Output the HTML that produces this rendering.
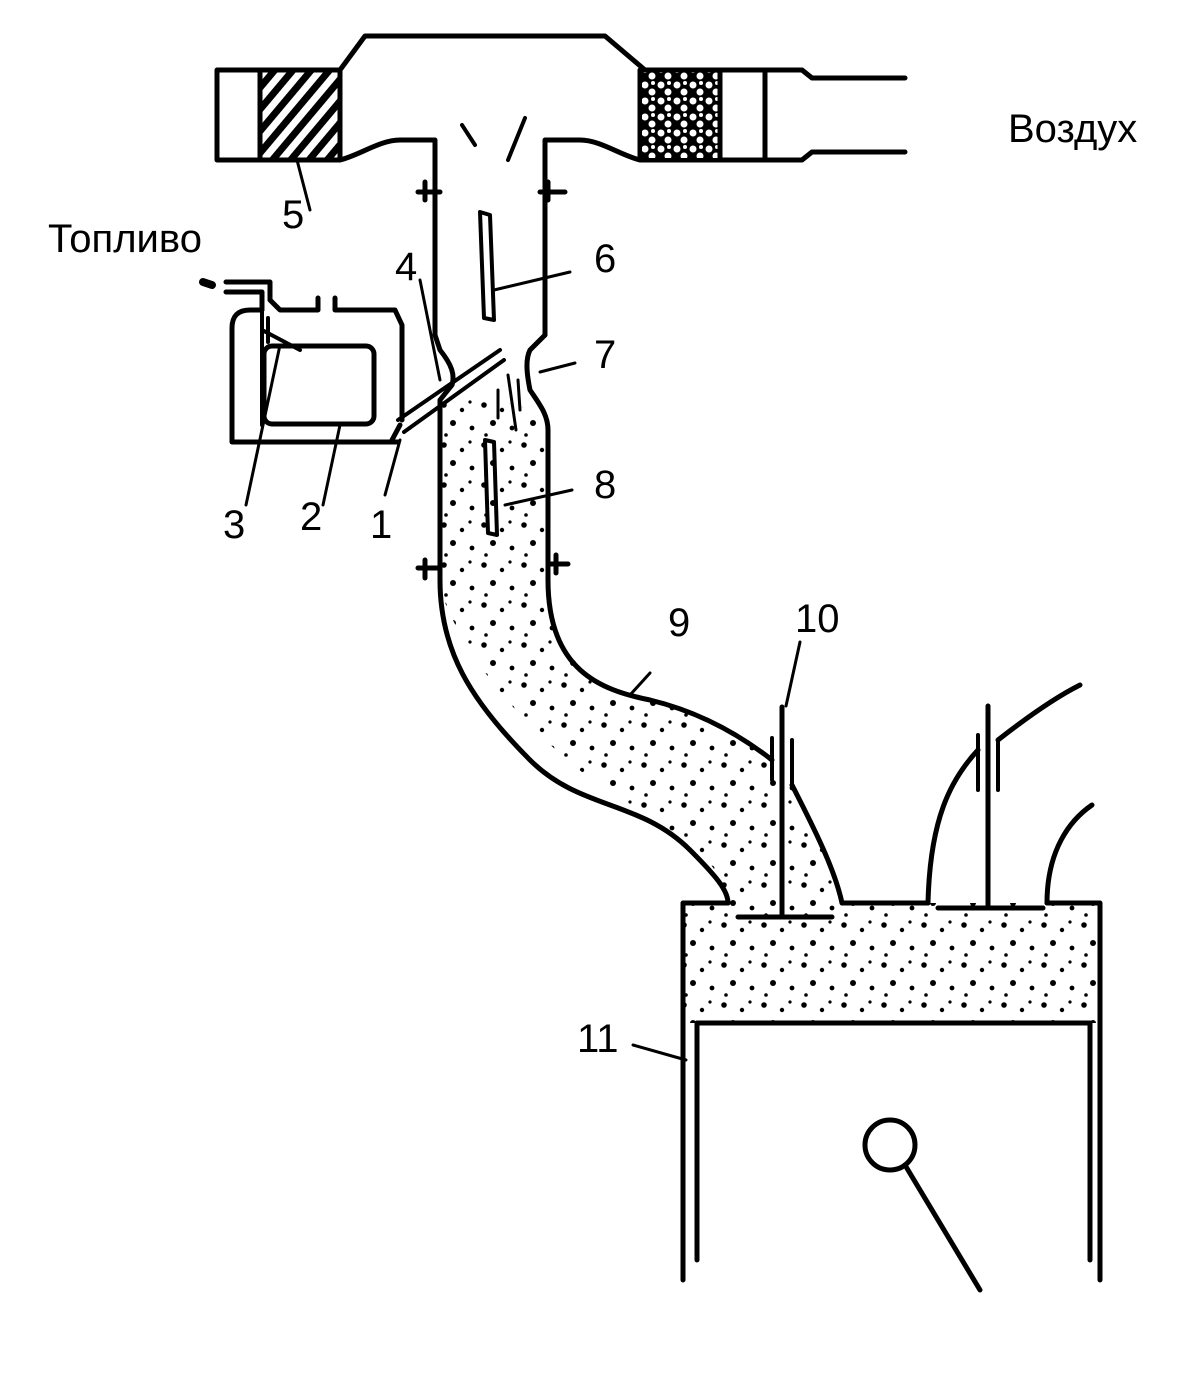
<!DOCTYPE html>
<html><head><meta charset="utf-8"><style>
html,body{margin:0;padding:0;background:#fff;}
svg{display:block}
text{font-family:"Liberation Sans",sans-serif;fill:#000}
</style></head><body>
<svg width="1200" height="1376" viewBox="0 0 1200 1376" xmlns="http://www.w3.org/2000/svg">
<defs>
<pattern id="dots" width="40" height="40" patternUnits="userSpaceOnUse">
<circle cx="4" cy="5" r="2.8"/><circle cx="22" cy="10" r="2.2"/><circle cx="13" cy="23" r="3"/><circle cx="32" cy="28" r="2.4"/><circle cx="6" cy="35" r="1.8"/><circle cx="30" cy="2" r="1.6"/>
</pattern>
<pattern id="hatch" width="14" height="14" patternUnits="userSpaceOnUse" patternTransform="rotate(-50)">
<rect x="0" y="0" width="14" height="7" fill="#000"/>
</pattern>
<pattern id="blob" width="16" height="16" patternUnits="userSpaceOnUse">
<rect width="16" height="16" fill="#000"/><circle cx="5" cy="5" r="3.5" fill="#fff"/><circle cx="12" cy="12" r="3.5" fill="#fff"/><circle cx="13" cy="3" r="2" fill="#fff"/>
</pattern>
</defs>
<g fill="none" stroke="#000" stroke-width="5" stroke-linejoin="round" stroke-linecap="round">
<path d="M440,410 L452,395 L520,405 L548,430 L548,580 C548,660 600,690 650,700 C700,712 740,735 772,760 L782,760 L792,785 C820,830 835,870 842,903 L1100,903 L1100,1023 L683,1023 L683,903 L728,903 C720,860 690,840 620,800 C560,760 500,700 470,650 C445,610 440,590 440,580 Z" fill="url(#dots)" stroke="none"/>
<path d="M263,70 L340,70 L365,36 L605,36 L645,70 L718,70"/>
<rect x="217" y="70" width="123" height="90" fill="#fff"/>
<rect x="260" y="72" width="80" height="86" fill="url(#hatch)" stroke="none"/>
<line x1="260" y1="70" x2="260" y2="160"/>
<rect x="640" y="70" width="125" height="90" fill="#fff"/>
<rect x="642" y="72" width="78" height="86" fill="url(#blob)" stroke="none"/>
<line x1="720" y1="70" x2="720" y2="160"/>
<path d="M765,70 L802,70 L812,78 L905,78"/>
<path d="M765,160 L802,160 L812,152 L905,152"/>
<path d="M340,160 C360,155 380,140 400,140 L435,140 L435,335"/>
<path d="M640,160 C620,155 600,140 580,140 L545,140 L545,335"/>
<path d="M425,182 L425,200 M418,192 L440,192 M548,182 L548,200 M540,192 L565,192"/>
<path d="M425,560 L425,578 M418,568 L440,568 M556,555 L556,573 M548,564 L568,564"/>
<path d="M435,335 L440,350 C452,365 455,375 452,385 L440,400 L440,580"/>
<path d="M545,335 L530,350 C525,360 527,375 530,390 C540,405 548,415 548,430 L548,580"/>
<path d="M398,420 L500,350 M404,432 L504,360" stroke-width="4"/>
<path d="M400,425 L392,440" />
<path d="M480,212 L490,215 L494,320 L484,318 Z" stroke-width="4"/>
<path d="M485,440 L494,442 L497,535 L488,533 Z" stroke-width="4"/>
<path d="M462,125 L475,145 M525,118 L508,160" stroke-width="4"/>
<path d="M498,390 L498,418 M508,375 L516,430 M518,380 L520,410" stroke-width="3"/>
<path d="M232,370 L232,442 L398,442 M232,370 L232,328 Q232,310 250,310 L262,310 M262,310 L262,292 L226,292 M226,282 L270,282 L270,300 L280,310 L318,310 L318,298 M335,298 L335,310 L395,310 L402,325 L402,420"/>
<rect x="264" y="346" width="110" height="78" rx="8"/>
<path d="M262,310 L262,425 M268,318 L268,342 M262,330 L300,350" stroke-width="4"/>
<path d="M203,282 L212,285" stroke-width="8"/>
<path d="M440,580 C440,650 470,700 530,760 C580,810 640,800 690,850 C715,875 728,890 728,903"/>
<path d="M548,580 C548,670 600,690 650,700 C700,712 740,735 772,760"/>
<path d="M792,785 C815,830 835,870 842,903"/>
<path d="M782,707 L782,917 M738,917 L832,917"/>
<path d="M772,738 L772,780 M792,740 L792,785" stroke-width="4"/>
<path d="M988,706 L988,908 M938,908 L1043,908"/>
<path d="M978,735 L978,790 M998,740 L998,790" stroke-width="4"/>
<path d="M928,903 C930,820 950,780 978,750"/>
<path d="M998,740 C1030,715 1060,695 1080,685"/>
<path d="M1047,903 C1047,850 1070,820 1092,805"/>
<path d="M683,1280 L683,903 L728,903 M842,903 L928,903 M1047,903 L1100,903 L1100,1280"/>
<path d="M697,1260 L697,1023 L1090,1023 L1090,1260"/>
<circle cx="890" cy="1145" r="25"/>
<path d="M905,1165 L980,1290"/>
<path d="M297,160 L310,210 M494,290 L570,272 M540,372 L575,363 M505,505 L572,490 M630,695 L650,673 M633,1045 L686,1060 M786,706 L800,642" stroke-width="3"/>
<path d="M246,505 L280,345 M323,505 L340,425 M385,495 L400,440 M420,280 L440,380" stroke-width="3"/>
</g>
<g font-size="40">
<text x="1008" y="142">Воздух</text>
<text x="48" y="252">Топливо</text>
<text x="282" y="228">5</text>
<text x="594" y="272">6</text>
<text x="395" y="280">4</text>
<text x="594" y="368">7</text>
<text x="594" y="498">8</text>
<text x="223" y="538">3</text>
<text x="300" y="530">2</text>
<text x="370" y="538">1</text>
<text x="668" y="636">9</text>
<text x="795" y="632">10</text>
<text x="577" y="1052">11</text>
</g>
</svg>
</body></html>
